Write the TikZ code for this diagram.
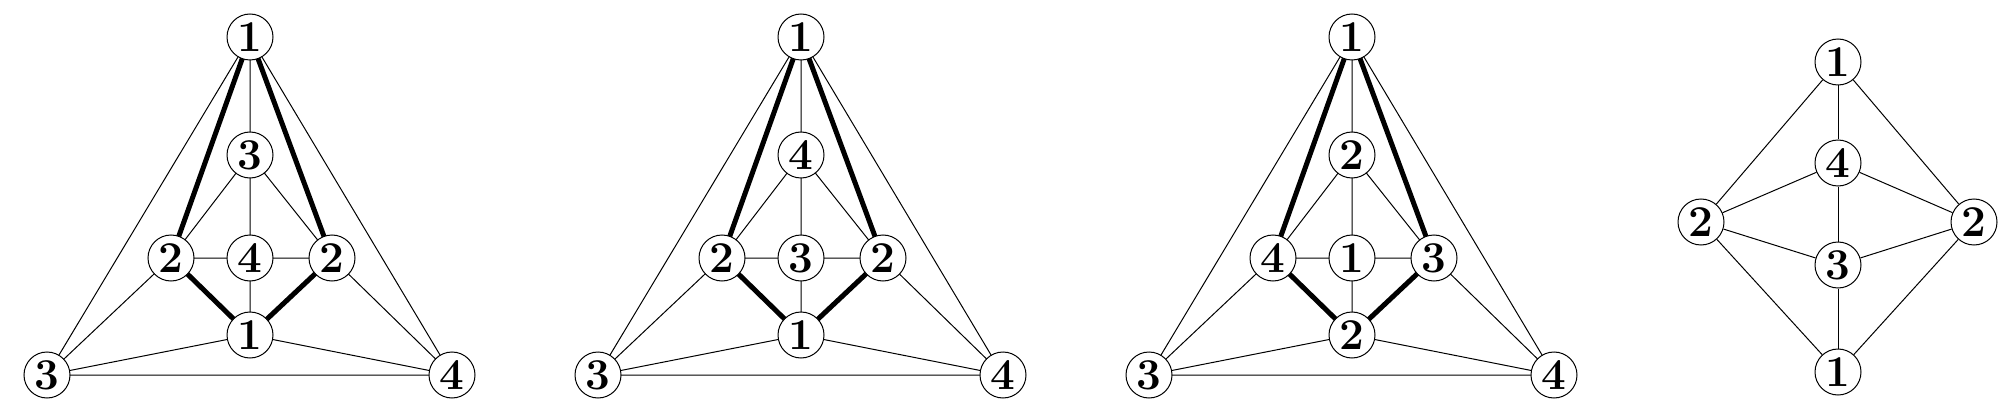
\documentclass[tikz,border=0pt]{standalone}
\usepackage{fix-cm}
\tikzset{
  vtx/.style={circle,draw,line width=1pt,fill=white,inner sep=0pt,minimum size=46pt,
    font=\fontsize{44}{44}\selectfont\bfseries},
  thin/.style={line width=1pt},
  heavy/.style={line width=5pt}
}
\begin{document}
\begin{tikzpicture}[x=1pt,y=-1pt]
\useasboundingbox (0,0) rectangle (2011,417);
% three tetrahedral pictures: top, inner, left, centre, right, bottom labels
\foreach \dx/\a/\bb/\cc/\d/\e/\f in {0/1/3/2/4/2/1, 551/1/4/2/3/2/1, 1102/1/2/4/1/3/2}{
  \begin{scope}[xshift=\dx]
  \coordinate (t) at (250,37);
  \coordinate (i) at (250,155);
  \coordinate (l) at (171,258);
  \coordinate (c) at (250,258);
  \coordinate (r) at (332,258);
  \coordinate (b) at (250,335);
  \coordinate (bl) at (47,375);
  \coordinate (br) at (452,375);
  \draw[thin] (t) -- (bl) -- (br) -- (t) -- (i) -- (c) -- (b);
  \draw[thin] (i) -- (l) -- (c) -- (r) -- (i);
  \draw[thin] (l) -- (bl) -- (b) -- (br) -- (r);
  \draw[heavy] (l) -- (t) -- (r) -- (b) -- (l);
  \node[vtx] (t) at (t) {\a};
  \node[vtx] (i) at (i) {\bb};
  \node[vtx] (l) at (l) {\cc};
  \node[vtx] (c) at (c) {\d};
  \node[vtx] (r) at (r) {\e};
  \node[vtx] (b) at (b) {\f};
  \node[vtx] (bl) at (bl) {3};
  \node[vtx] (br) at (br) {4};
  \end{scope}
}
% the last one
\node[vtx] (p1) at (1838,62) {1};
\node[vtx] (p4) at (1838,163) {4};
\node[vtx] (p2l) at (1701,222) {2};
\node[vtx] (p2r) at (1974,222) {2};
\node[vtx] (p3) at (1838,265) {3};
\node[vtx] (q1) at (1838,372) {1};
\draw[thin] (p1) -- (p4) -- (p3) -- (q1);
\draw[thin] (p1) -- (p2l) -- (q1) -- (p2r) -- (p1);
\draw[thin] (p2l) -- (p4) -- (p2r) -- (p3) -- (p2l);
\end{tikzpicture}
\end{document}
